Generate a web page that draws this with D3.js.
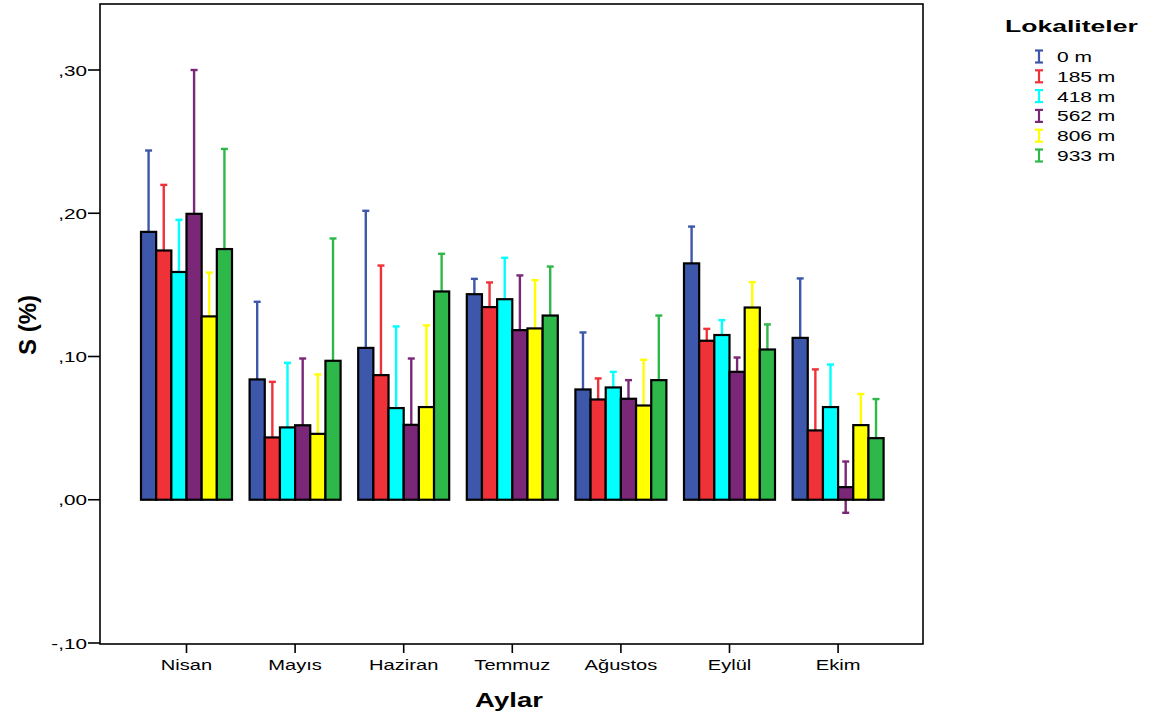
<!DOCTYPE html>
<html>
<head>
<meta charset="utf-8">
<script src="https://cdn.jsdelivr.net/npm/d3@7"></script>
<style>
  body { margin: 0; background: #fff; }
  text { font-family: "Liberation Sans", Arial, sans-serif; fill: #000; }
</style>
</head>
<body>
<div id="chart"></div>
<script>
// S (%) by month and locality (bar + error bar)
var months = ["Nisan", "Mayıs", "Haziran", "Temmuz", "Ağustos", "Eylül", "Ekim"];
var series = ["0 m", "185 m", "418 m", "562 m", "806 m", "933 m"];
var colors = ["#3d58ab", "#ef3138", "#00ffff", "#7b2778", "#ffff00", "#2fb84a"];
var yTicks = [-0.1, 0, 0.1, 0.2, 0.3];

// means
var m0   = [0.187, 0.084, 0.106, 0.1435, 0.077, 0.165, 0.113];
var m185 = [0.174, 0.0435, 0.087, 0.1345, 0.070, 0.111, 0.0484];
var m418 = [0.159, 0.0505, 0.064, 0.140, 0.0784, 0.115, 0.0647];
var m562 = [0.1996, 0.052, 0.0523, 0.1184, 0.0705, 0.0893, 0.0088];
var m806 = [0.128, 0.046, 0.0647, 0.1196, 0.0658, 0.1342, 0.0521];
var m933 = [0.175, 0.097, 0.1454, 0.1286, 0.0835, 0.1049, 0.043];

// upper end of error bars
var u0   = [0.2438, 0.1382, 0.2017, 0.1542, 0.1168, 0.1907, 0.1545];
var u185 = [0.2198, 0.0823, 0.1635, 0.1517, 0.0847, 0.1193, 0.0910];
var u418 = [0.1954, 0.0956, 0.1210, 0.1689, 0.0893, 0.1254, 0.0944];
var u562 = [0.300, 0.0986, 0.0986, 0.1566, 0.0835, 0.0993, 0.0267];
var u806 = [0.1586, 0.0875, 0.1217, 0.1533, 0.0977, 0.1519, 0.0738];
var u933 = [0.2449, 0.1824, 0.1717, 0.1628, 0.1286, 0.1224, 0.0703];

var means = [m0, m185, m418, m562, m806, m933];
var uppers = [u0, u185, u418, u562, u806, u933];

var rows = [];
months.forEach(function(m, i) {
  series.forEach(function(s, j) {
    var v = means[j][i], up = uppers[j][i];
    rows.push({month: m, series: s, idx: j, value: v, hi: up, lo: 2 * v - up});
  });
});

var svgWidth = 1155, svgHeight = 718;
var frame = {left: 100, right: 923, top: 4, bottom: 644};

var svg = d3.select("#chart").append("svg")
  .attr("width", svgWidth)
  .attr("height", svgHeight);

var y = d3.scaleLinear().domain([-0.1, 0.3]).range([643, 70]);
var x0 = d3.scaleBand().domain(months).range([132.2, 892.4]).padding(0);
var groupW = 91;
var x1 = d3.scaleBand().domain(series).range([0, groupW]).padding(0);
function gx(m) { return x0(m) + (x0.bandwidth() - groupW) / 2; }

// helper: horizontally stretched text like the SPSS output
function stext(g, x, yy, str, opts) {
  var t = g.append("g")
    .attr("transform", "translate(" + x + "," + yy + ") scale(" + (opts.sx || 1) + ",1)")
    .append("text")
    .attr("text-anchor", opts.anchor || "start")
    .style("font-size", opts.size + "px")
    .style("font-weight", opts.bold ? "bold" : "normal")
    .text(str);
  return t;
}

// error bars first, bars are drawn on top of them
var eb = svg.append("g").attr("class", "errorbars");
rows.forEach(function(d) {
  var cx = gx(d.month) + x1(d.series) + x1.bandwidth() / 2;
  var c = colors[d.idx];
  eb.append("line").attr("x1", cx).attr("x2", cx)
    .attr("y1", y(d.lo)).attr("y2", y(d.hi))
    .attr("stroke", c).attr("stroke-width", 2.4);
  [d.lo, d.hi].forEach(function(v) {
    eb.append("line").attr("x1", cx - 3.5).attr("x2", cx + 3.5)
      .attr("y1", y(v)).attr("y2", y(v))
      .attr("stroke", c).attr("stroke-width", 2.4);
  });
});

svg.append("g").attr("class", "bars")
  .selectAll("rect")
  .data(rows)
  .join("rect")
  .attr("x", function(d) { return gx(d.month) + x1(d.series); })
  .attr("width", x1.bandwidth())
  .attr("y", function(d) { return y(Math.max(0, d.value)); })
  .attr("height", function(d) { return Math.abs(y(d.value) - y(0)); })
  .attr("fill", function(d) { return colors[d.idx]; })
  .attr("stroke", "#000")
  .attr("stroke-width", 2.2);

// frame
svg.append("rect")
  .attr("x", frame.left).attr("y", frame.top)
  .attr("width", frame.right - frame.left)
  .attr("height", frame.bottom - frame.top)
  .attr("fill", "none").attr("stroke", "#000").attr("stroke-width", 1.6);

// y axis ticks + labels
var yAxisG = svg.append("g");
yTicks.forEach(function(t) {
  var yy = y(t);
  yAxisG.append("line").attr("x1", 88).attr("x2", frame.left)
    .attr("y1", yy).attr("y2", yy).attr("stroke", "#000").attr("stroke-width", 1.6);
  var lab = d3.format(".2f")(Math.abs(t)).replace("0.", ",");
  if (t < 0) lab = "-" + lab;
  stext(yAxisG, 87, yy + 5.5, lab, {size: 15, sx: 1.38, anchor: "end"});
});

// x axis ticks + labels
var xAxisG = svg.append("g");
months.forEach(function(m) {
  var cx = x0(m) + x0.bandwidth() / 2;
  xAxisG.append("line").attr("x1", cx).attr("x2", cx)
    .attr("y1", frame.bottom).attr("y2", 653)
    .attr("stroke", "#000").attr("stroke-width", 1.6);
  stext(xAxisG, cx, 670, m, {size: 15, sx: 1.34, anchor: "middle"});
});

// axis titles
stext(svg, 509, 707, "Aylar", {size: 21, sx: 1.31, anchor: "middle", bold: true});
svg.append("g").attr("transform", "translate(36,325) rotate(-90)")
  .append("text").attr("text-anchor", "middle")
  .style("font-size", "24px").style("font-weight", "bold")
  .text("S (%)");

// legend
var leg = svg.append("g").attr("class", "legend");
stext(leg, 1005, 32, "Lokaliteler", {size: 16.5, sx: 1.61, bold: true});
series.forEach(function(s, j) {
  var cy = 56.5 + j * 19.8;
  var c = colors[j];
  leg.append("line").attr("x1", 1039).attr("x2", 1039)
    .attr("y1", cy - 6).attr("y2", cy + 6).attr("stroke", c).attr("stroke-width", 2.2);
  [cy - 6, cy + 6].forEach(function(v) {
    leg.append("line").attr("x1", 1035).attr("x2", 1043)
      .attr("y1", v).attr("y2", v).attr("stroke", c).attr("stroke-width", 2.2);
  });
  stext(leg, 1057, cy + 5.5, s, {size: 15, sx: 1.4});
});
</script>
</body>
</html>
